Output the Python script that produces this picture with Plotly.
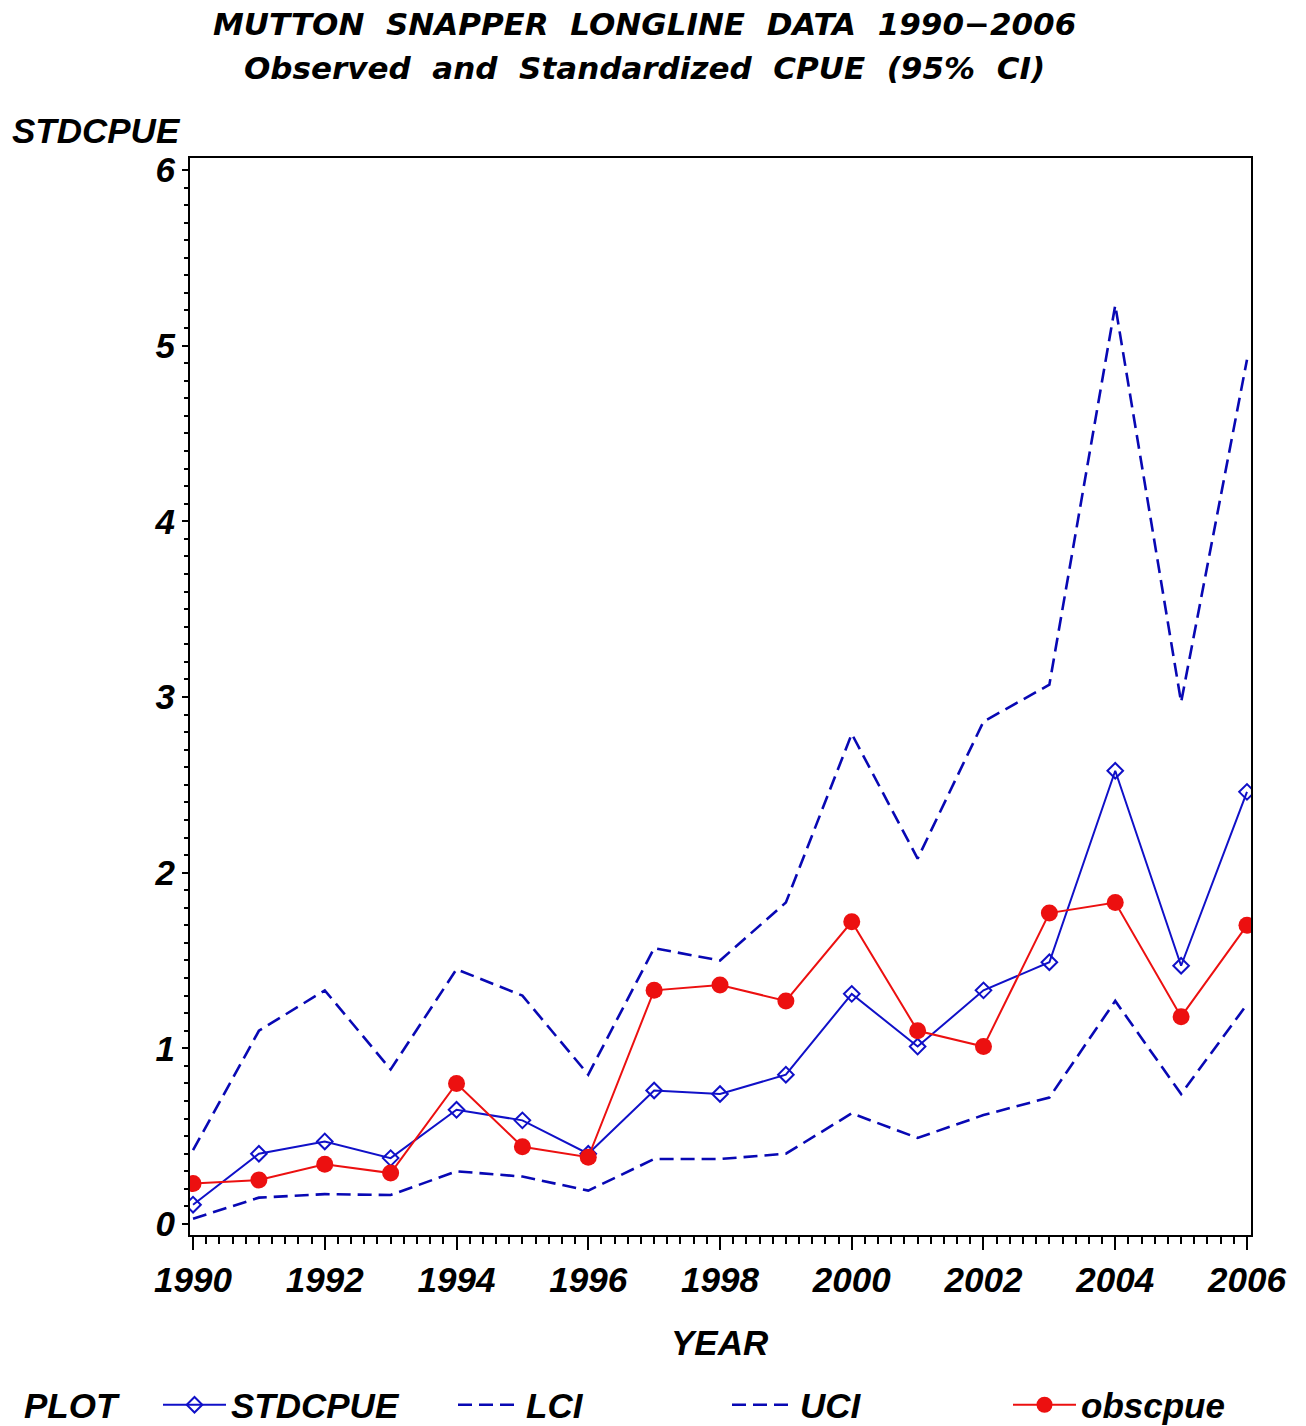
import plotly.graph_objects as go

years = list(range(1990, 2007))

stdcpue = [0.11, 0.40, 0.47, 0.375, 0.65, 0.59, 0.40, 0.76, 0.74, 0.85,
           1.31, 1.01, 1.33, 1.49, 2.58, 1.47, 2.46]
obscpue = [0.23, 0.25, 0.34, 0.29, 0.80, 0.44, 0.38, 1.33, 1.36, 1.27,
           1.72, 1.10, 1.01, 1.77, 1.83, 1.18, 1.70]
lci = [0.03, 0.15, 0.17, 0.165, 0.30, 0.27, 0.19, 0.37, 0.37, 0.40,
       0.63, 0.49, 0.62, 0.72, 1.27, 0.74, 1.25]
uci = [0.42, 1.10, 1.33, 0.88, 1.45, 1.30, 0.85, 1.57, 1.50, 1.83,
       2.79, 2.08, 2.86, 3.07, 5.23, 2.97, 4.92]

BLUE = '#1010c8'
DBLUE = '#0808b4'
RED = '#ec1010'
FONT = 'Liberation Sans'

bold_it = dict(family=FONT, size=35, color='black', style='italic', weight='bold')

# page body adds ~8px offset; plot area on screen spans rows 158..1235
def py(pix):
    return (1235 - pix) / 1077

def px(pix):
    return (pix - 190) / 1061

fig = go.Figure()

fig.add_trace(go.Scatter(
    x=years, y=stdcpue, name='STDCPUE', mode='lines+markers', legend='legend2',
    line=dict(color=BLUE, width=2),
    marker=dict(symbol='diamond-open', size=12, color=BLUE, line=dict(width=2)),
))
fig.add_trace(go.Scatter(
    x=years, y=lci, name='LCI', mode='lines', legend='legend3',
    line=dict(color=DBLUE, width=2.6, dash='14px,7px'),
))
fig.add_trace(go.Scatter(
    x=years, y=uci, name='UCI', mode='lines', legend='legend4',
    line=dict(color=DBLUE, width=2.6, dash='14px,7px'),
))
fig.add_trace(go.Scatter(
    x=years, y=obscpue, name='obscpue', mode='lines+markers', legend='legend5',
    line=dict(color=RED, width=2),
    marker=dict(symbol='circle', size=17, color=RED),
))

fig.update_xaxes(
    range=[1989.954, 2006.061], tickmode='linear', tick0=1990, dtick=2,
    ticks='outside', ticklen=13, tickwidth=2, tickcolor='black',
    minor=dict(dtick=0.2, ticks='outside', ticklen=7, tickwidth=2, tickcolor='black'),
    showline=True, linecolor='black', linewidth=2, mirror=True,
    showgrid=False, zeroline=False,
    tickfont=bold_it, ticklabelstandoff=0,
)
fig.update_yaxes(
    range=[-0.0626, 6.068], tickmode='linear', tick0=0, dtick=1,
    ticks='outside', ticklen=6, tickwidth=2, tickcolor='black',
    minor=dict(dtick=0.1, ticks='outside', ticklen=4, tickwidth=1.5, tickcolor='black'),
    showline=True, linecolor='black', linewidth=2, mirror=True,
    showgrid=False, zeroline=False,
    tickfont=bold_it, ticklabelstandoff=0,
)

title_font = dict(family='DejaVu Sans', size=31, color='black', style='italic', weight='bold')
fig.add_annotation(text='MUTTON  SNAPPER  LONGLINE  DATA  1990\u22122006',
                   xref='paper', yref='paper', x=0.428, y=py(24),
                   xanchor='center', yanchor='middle', showarrow=False,
                   font=title_font)
fig.add_annotation(text='Observed  and  Standardized  CPUE  (95%  CI)',
                   xref='paper', yref='paper', x=0.428, y=py(68),
                   xanchor='center', yanchor='middle', showarrow=False,
                   font=title_font)
fig.add_annotation(text='STDCPUE', xref='paper', yref='paper',
                   x=px(10), y=py(131), xanchor='left', yanchor='middle',
                   showarrow=False, font=bold_it)
fig.add_annotation(text='YEAR', xref='paper', yref='paper',
                   x=px(720), y=py(1342), xanchor='center', yanchor='middle',
                   showarrow=False, font=bold_it)
fig.add_annotation(text='PLOT', xref='paper', yref='paper',
                   x=px(22), y=py(1405), xanchor='left', yanchor='middle',
                   showarrow=False, font=bold_it)

leg_y = 1 - 1397 / 1426
def leg(xpix):
    return dict(orientation='h', xref='container', yref='container',
                x=xpix / 1306, y=leg_y, xanchor='left', yanchor='middle',
                font=bold_it, itemwidth=63, bgcolor='rgba(0,0,0,0)')

fig.update_layout(
    width=1306, height=1426,
    paper_bgcolor='white', plot_bgcolor='white',
    margin=dict(l=182, r=63, t=150, b=199, autoexpand=False),
    font=dict(family=FONT, color='black'),
    legend2=leg(150),
    legend3=leg(445),
    legend4=leg(719),
    legend5=leg(1000),
)

fig.write_html('out.html')
